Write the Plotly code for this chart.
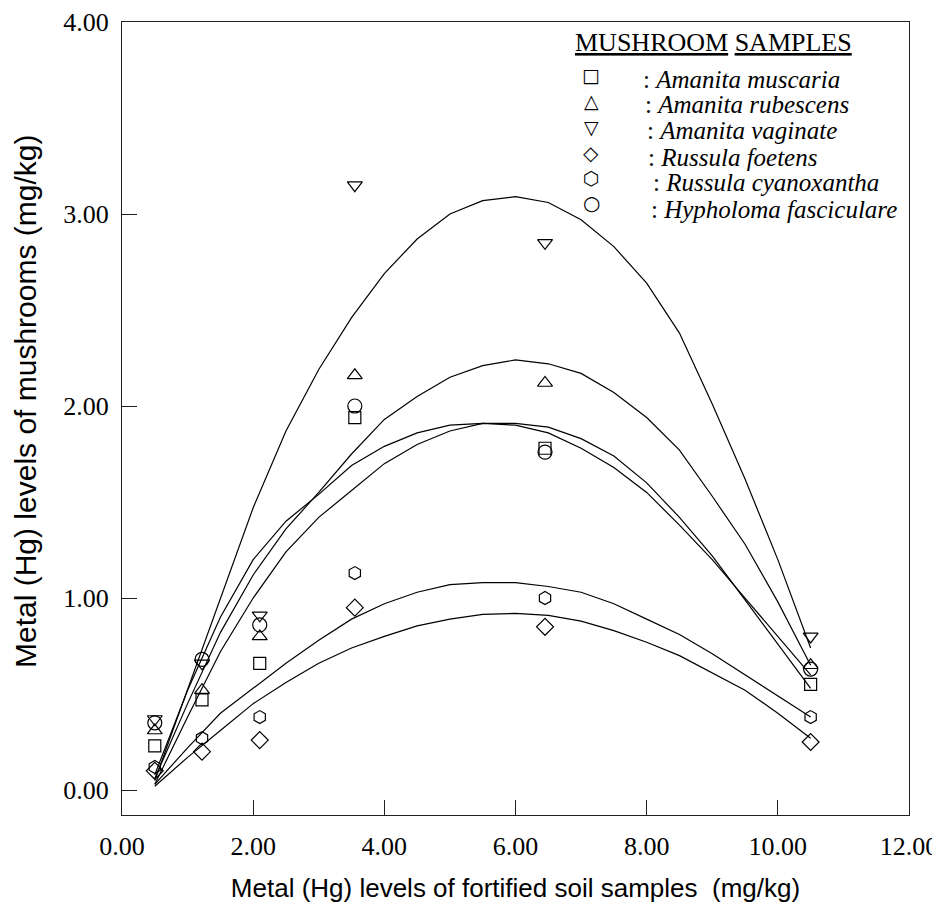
import plotly.graph_objects as go

# ---------------- data ----------------
species = ["Amanita muscaria", "Amanita rubescens", "Amanita vaginate",
           "Russula foetens", "Russula cyanoxantha", "Hypholoma fasciculare"]

soil_hg = [0.5, 1.22, 2.1, 3.55, 6.45, 10.5]

muscaria = [0.23, 0.47, 0.66, 1.94, 1.78, 0.55]
rubescens = [0.31, 0.52, 0.80, 2.16, 2.12, 0.65]
vaginate = [0.37, 0.66, 0.91, 3.15, 2.85, 0.80]
foetens = [0.10, 0.20, 0.26, 0.95, 0.85, 0.25]
cyanoxantha = [0.12, 0.27, 0.38, 1.13, 1.00, 0.38]
hypholoma = [0.35, 0.68, 0.86, 2.00, 1.76, 0.63]

# fitted curves
fit_x = [0.5, 1.0, 1.5, 2.0, 2.5, 3.0, 3.5, 4.0, 4.5, 5.0, 5.5,
         6.0, 6.5, 7.0, 7.5, 8.0, 8.5, 9.0, 9.5, 10.0, 10.5]
fit_vaginate = [0.05, 0.52, 1.00, 1.47, 1.87, 2.19, 2.46, 2.69, 2.87, 3.00, 3.07,
                3.09, 3.06, 2.97, 2.83, 2.64, 2.38, 2.01, 1.62, 1.20, 0.74]
fit_rubescens = [0.06, 0.45, 0.82, 1.12, 1.36, 1.55, 1.75, 1.93, 2.05, 2.15, 2.21,
                 2.24, 2.22, 2.17, 2.07, 1.94, 1.77, 1.53, 1.28, 0.98, 0.65]
fit_hypholoma = [0.08, 0.52, 0.90, 1.20, 1.40, 1.54, 1.69, 1.79, 1.86, 1.90, 1.91,
                 1.90, 1.86, 1.78, 1.68, 1.55, 1.38, 1.20, 1.00, 0.80, 0.60]
fit_muscaria = [0.03, 0.38, 0.72, 1.00, 1.24, 1.42, 1.56, 1.70, 1.80, 1.87, 1.91,
                1.91, 1.89, 1.83, 1.74, 1.60, 1.42, 1.22, 0.99, 0.76, 0.53]
fit_cyanoxantha = [0.03, 0.22, 0.40, 0.53, 0.66, 0.78, 0.89, 0.97, 1.03, 1.07, 1.08,
                   1.08, 1.06, 1.03, 0.97, 0.89, 0.81, 0.71, 0.60, 0.49, 0.38]
fit_foetens = [0.02, 0.17, 0.31, 0.45, 0.56, 0.66, 0.74, 0.80, 0.855, 0.89, 0.915,
               0.92, 0.91, 0.88, 0.83, 0.77, 0.70, 0.61, 0.52, 0.40, 0.27]

x_ticks = [0, 2, 4, 6, 8, 10, 12]
y_ticks = [0, 1, 2, 3, 4]

x_title = "Metal (Hg) levels of fortified soil samples  (mg/kg)"
y_title = "Metal (Hg) levels of mushrooms (mg/kg)"
legend_title = "<u>MUSHROOM</u> <u>SAMPLES</u>"

# ---------------- styles ----------------
symbols = ["square-open", "triangle-up-open", "triangle-down-open",
           "diamond-open", "hexagon-open", "circle-open"]
legend_glyphs = ["\u25A1", "\u25B3", "\u25BD", "\u25C7", "\u2B21", "\u25CB"]
glyph_sizes = [19, 19, 19, 20, 19, 20]
marker_sizes = [12, 13, 13, 13, 13, 14]

series = [muscaria, rubescens, vaginate, foetens, cyanoxantha, hypholoma]
fits = [fit_muscaria, fit_rubescens, fit_vaginate, fit_foetens, fit_cyanoxantha, fit_hypholoma]

SERIF = "Liberation Serif, Times New Roman, serif"
SANS = "Liberation Sans, Arial, sans-serif"

fig = go.Figure()

for name, f in zip(species, fits):
    fig.add_trace(go.Scatter(x=fit_x, y=f, mode="lines", name=name + " fit",
                             line=dict(color="black", width=1.2), showlegend=False,
                             hoverinfo="skip"))

for name, s, sym, ms in zip(species, series, symbols, marker_sizes):
    fig.add_trace(go.Scatter(x=soil_hg, y=s, mode="markers", name=name,
                             marker=dict(symbol=sym, size=ms, color="black",
                                         line=dict(color="black", width=1.2)),
                             showlegend=False))

# page offset (default body margin of the html page)
OFF = 8
W, H = 940 - OFF, 907 - OFF
# plot area in screen pixels, converted to figure pixels
L, R, T, B = 122 - OFF, 909 - OFF, 22 - OFF, 815 - OFF


def px(xp):
    return (xp - OFF - L) / (R - L)


def py(yp):
    return (B - (yp - OFF)) / (B - T)


annotations = [dict(xref="paper", yref="paper", x=px(713), y=py(43),
                    text=legend_title, showarrow=False,
                    xanchor="center", yanchor="middle",
                    font=dict(family=SERIF, size=26, color="black")),
               dict(xref="paper", yref="paper", x=px(25), y=py(402),
                    text=y_title, textangle=-90, showarrow=False,
                    xanchor="center", yanchor="middle",
                    font=dict(family=SANS, size=30, color="black"))]

sym_y = [75, 101, 127, 153, 178, 203]
txt_y = [79, 105, 131, 157, 183, 209]
txt_x = [641, 643, 645, 646, 651, 649]
for name, g, gs, sy, ty, tx in zip(species, legend_glyphs, glyph_sizes, sym_y, txt_y, txt_x):
    annotations.append(dict(xref="paper", yref="paper", x=px(591), y=py(sy), text=g,
                            showarrow=False, xanchor="center", yanchor="middle",
                            font=dict(family="DejaVu Sans", size=gs, color="black")))
    annotations.append(dict(xref="paper", yref="paper", x=px(tx), y=py(ty),
                            text=": <i>" + name + "</i>", showarrow=False,
                            xanchor="left", yanchor="middle",
                            font=dict(family=SERIF, size=25, color="black")))

axis_common = dict(showline=True, linecolor="#222", linewidth=1.3, mirror=True,
                   ticks="inside", ticklen=15, tickwidth=1.3, tickcolor="#222",
                   showgrid=False, zeroline=False, tickformat=".2f", automargin=False,
                   tickfont=dict(family=SERIF, size=26, color="black"))

fig.update_layout(
    width=W, height=H,
    margin=dict(l=L, r=W - R, t=T, b=H - B),
    plot_bgcolor="white", paper_bgcolor="white",
    showlegend=False,
    xaxis=dict(range=[0, 12], tickvals=x_ticks, ticklabelstandoff=8,
               title=dict(text=x_title,
                          font=dict(family=SANS, size=26, color="black"), standoff=18),
               **axis_common),
    yaxis=dict(range=[-0.13, 4.0], tickvals=y_ticks, ticklabelstandoff=7,
               **axis_common),
    annotations=annotations,
)

fig.write_html("out.html")
